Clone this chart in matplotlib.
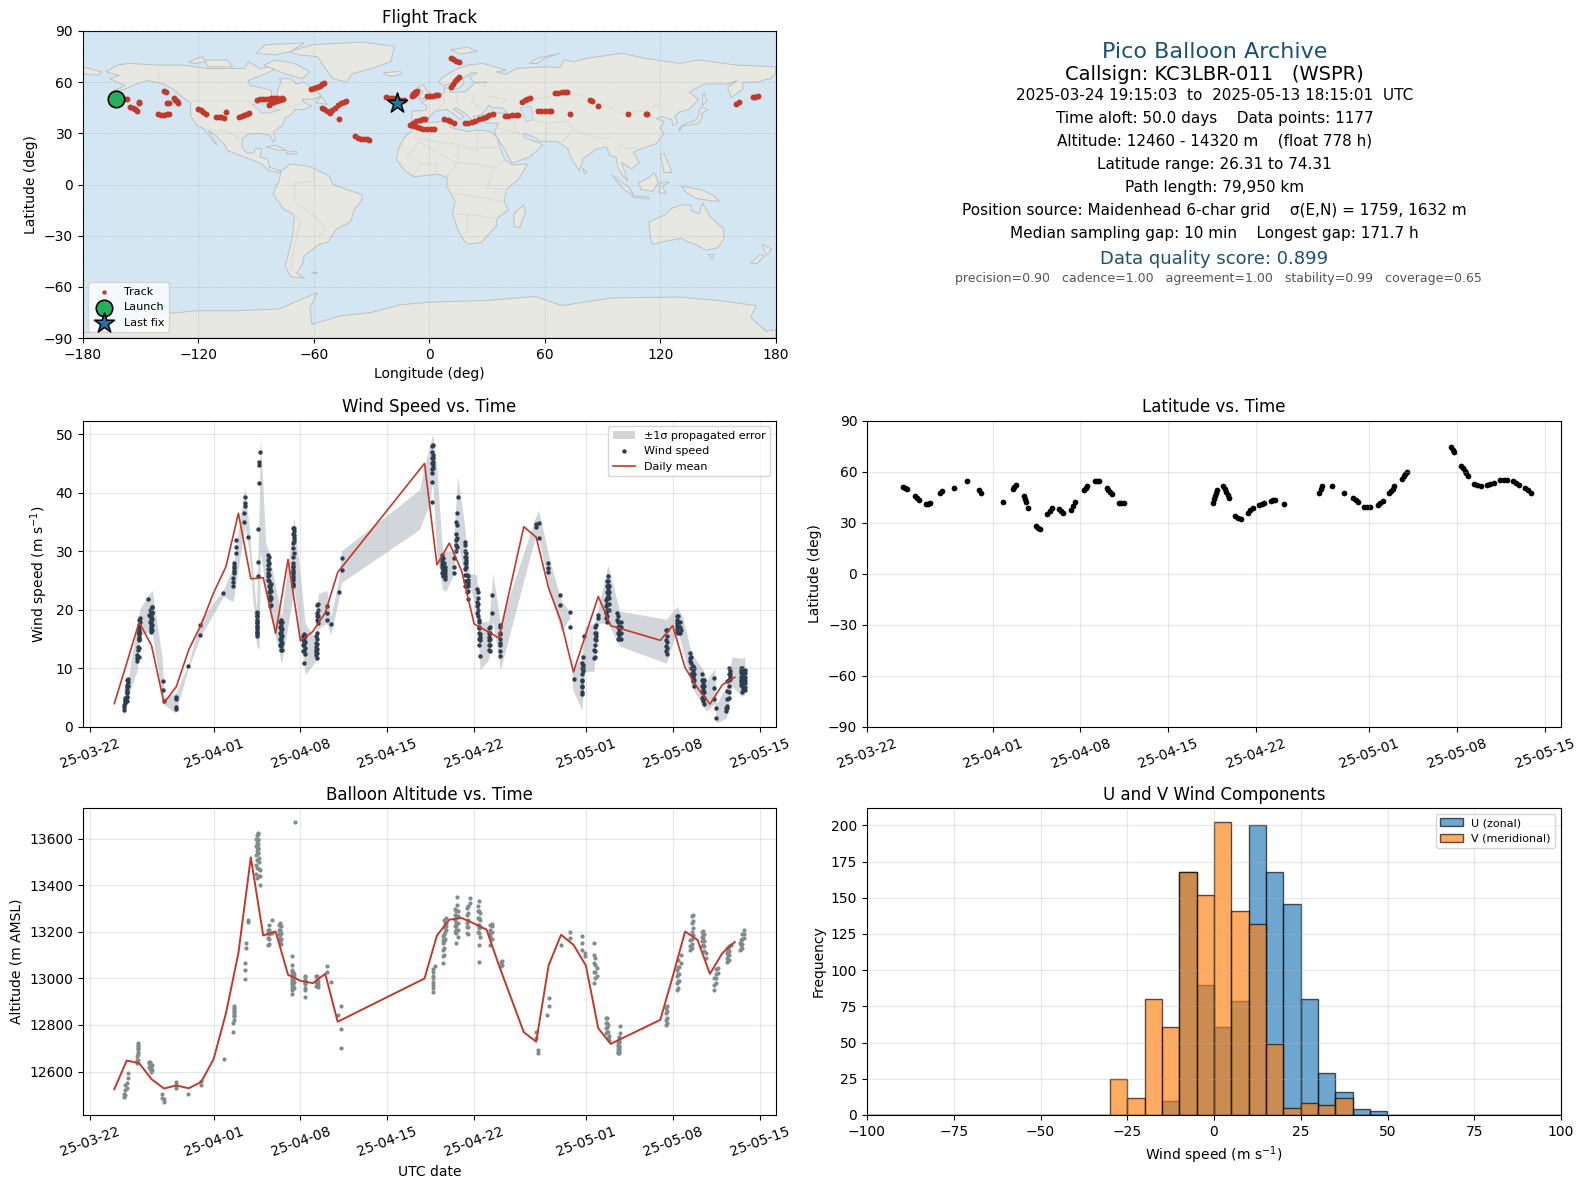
import numpy as np
import pandas as pd
import matplotlib
matplotlib.use("Agg")
import matplotlib.pyplot as plt
import matplotlib.dates as mdates

# coarse coastlines, read by eye (lon, lat)
north_america = [(-168,66),(-162,70),(-156,71),(-141,70),(-128,70),(-115,68),(-108,68),(-96,68),(-94,72),(-88,68),(-82,69),(-81,67),(-87,64),(-94,61),(-93,58),(-88,57),(-82,55),(-82,52),(-79,51),(-79,55),(-77,60),(-78,62),(-72,62),(-69,59),(-65,60),(-62,57),(-56,52),(-60,50),(-66,50),(-65,48),(-61,46),(-65,44),(-70,44),(-71,41.5),(-75,39),(-76,35),(-81,31),(-80,26),(-81,25),(-83,29),(-89,30),(-94,29.5),(-97,27),(-97.5,22),(-95,18.5),(-91,18.5),(-90.5,21),(-87,21),(-88,16),(-84,15),(-83,10),(-80,9),(-77,8),(-78,7),(-83,8),(-87,12),(-92,14.5),(-96,16),(-105,20),(-106,23),(-112,30),(-114.7,31.5),(-110,23),(-112,25),(-117,32.5),(-120.5,34.5),(-124,40),(-124,48),(-128,51),(-133,56),(-138,59),(-146,61),(-152,59),(-158,56),(-165,54.5),(-158,58),(-162,60),(-166,62),(-161,64)]
south_america = [(-77,8),(-72,12),(-62,10.5),(-52,5),(-50,0),(-44,-2.5),(-35,-6),(-35,-9),(-39,-15),(-41,-22),(-48,-26),(-53,-34),(-57,-35),(-62,-39),(-65,-42),(-66,-47),(-69,-52),(-65,-55),(-72,-54),(-75,-48),(-73,-40),(-71,-30),(-70,-18),(-76,-14),(-81,-6),(-80,-2),(-78,2)]
africa = [(-6,36),(10,37),(11,33.5),(20,31),(25,32),(32,31),(35,28),(37,21),(39,15),(43,11.5),(51,12),(47,4),(40,-3),(39,-10),(41,-15),(35,-20),(35,-24),(32,-28),(27,-34),(20,-35),(18,-33),(15,-27),(12,-17),(13.5,-10),(9,-1),(9.5,4),(4,6),(-4,5),(-8,4.5),(-13,8.5),(-17,14.5),(-16,21),(-13,27.5),(-9.5,31)]
eurasia = [(-9,37),(-9,43),(-1.5,43.5),(-1,46),(-4.5,48.5),(1.5,50.5),(8,54),(8,57),(11,56),(10.5,54),(19,54.5),(21,57),(24,59.5),(30,60),(23,60),(21,63),(25,65.5),(22,65.5),(17,62),(18,59),(15,56),(12.5,56),(11,59),(7,58),(5,60),(7,63),(14,67.5),(20,70),(28,71),(40,67),(35,66),(40,64.5),(45,68),(60,69),(68,68.5),(70,73),(75,72),(82,74),(100,77),(112,74),(130,71),(140,73),(160,70),(170,69.5),(180,69),(180,65),(177,62),(170,60),(163,60),(163,56),(157,51),(155,57),(160,61),(155,59),(143,59),(135,54),(140,50),(135,44),(130,42.5),(127.5,40),(129,36),(126.5,34.5),(126,38),(121,40),(118,38.5),(122,37),(120,33),(122,30),(118,24),(110,21),(106,19),(109,13),(105,9),(100,13),(103,2),(100,6),(98,10),(97,16),(94,17),(92,22),(87,21),(80,15),(78,8),(73,17),(72,21),(67,25),(57,25.5),(56,27),(49,30),(50,27),(56,25),(59,23),(52,16),(43,12.5),(39,21),(35,28),(34,31),(36,36),(30,36),(27,37),(26.5,40),(29,41),(35,42),(41,41.5),(38,45),(33,45),(31,46.5),(28,42),(26,40.5),(23,40),(23,36.5),(19.5,41),(14,45),(12.5,44),(18,40),(16,38),(12,42),(9,44),(3,43),(0,39.5),(-2,37),(-5.5,36)]
chukotka = [(-180,65),(-172,64),(-170,66),(-180,69)]
greenland = [(-73,78),(-60,82),(-35,83.5),(-18,81),(-20,72),(-30,68),(-40,65),(-43,60),(-50,62),(-54,68),(-58,75),(-68,76)]
antarctica = [(-180,-87),(-158,-85),(-150,-77),(-120,-74),(-100,-74),(-78,-73),(-68,-68),(-58,-63.5),(-62,-72),(-61,-82),(-46,-77),(-30,-75),(-15,-70.5),(0,-69),(30,-68),(55,-65.6),(69,-71),(95,-66.5),(130,-66),(150,-68),(170,-71),(167,-78),(175,-86),(180,-85),(180,-90),(-180,-90)]
australia = [(114,-22),(122,-18),(126,-14),(131,-12),(136,-12),(136,-15),(140,-17.5),(142,-11),(146,-19),(153,-26),(153,-32),(150,-37),(144,-38.5),(138,-35),(135,-34),(131,-31.5),(124,-33),(116,-35),(115,-32)]
islands = [
    [(-80,73),(-70,71),(-62,66),(-66,62),(-75,65),(-86,70)],
    [(-117,73),(-105,73),(-102,69),(-115,69)],
    [(-90,77),(-85,82),(-65,83),(-72,78),(-80,76)],
    [(-125,72),(-118,75),(-116,72),(-122,71)],
    [(-59,48),(-53,47),(-56,51.5)],
    [(-24,65.5),(-15,66.3),(-14,64.8),(-19,63.5),(-22,64)],
    [(-5.5,50),(1,51),(1,53),(-2,56),(-3,58.5),(-6,57),(-3,54),(-5,52)],
    [(-10,52),(-6,52),(-6,55),(-9,54.5)],
    [(11,79),(20,80.5),(25,78),(16,76.5)],
    [(52,71),(56,74),(68,77),(60,74),(56,71)],
    [(130,31),(131,34),(136,35),(140,36),(142,40),(141,41.5),(145,44),(141,45.5),(140,42),(139,38),(133,35.5),(130,33)],
    [(142,46),(144,49),(143,54),(142,52)],
    [(80,9.5),(82,7),(80.5,6)],
    [(-85,22),(-80,23),(-74,20),(-78,20)],
    [(-74,19),(-69,19.5),(-69,18),(-74,18)],
    [(109,1),(114,4),(117,7),(119,1),(116,-4),(110,-3)],
    [(95,5.5),(104,-2),(106,-6),(101,-3)],
    [(105,-6.5),(114,-7.5),(114,-8.5),(106,-7.5)],
    [(119.5,-5),(120,1),(125,1.5),(121,-1),(123,-5)],
    [(120,18),(122,18),(124,13),(126,7),(122,7),(121,13)],
    [(131,-1),(141,-3),(147,-6),(151,-10),(143,-9),(138,-8),(133,-4)],
    [(145,-41),(148,-41),(147,-43.5)],
    [(173,-35),(178,-38),(175,-41.5),(174,-39)],
    [(172,-41),(174,-42),(170,-46.5),(167,-46)],
    [(49,-12),(50,-16),(47,-25),(44,-25),(44,-17)],
    [(-61,-51.5),(-58,-51.5),(-59,-52.5)],
]
lakes = [[(47,45),(53,46),(54,38),(50,37),(49,41)],[(-92,47),(-85,48),(-80,44),(-77,44),(-83,42),(-87,42)]]
borders = [
    [(-123,49),(-95,49),(-83,46),(-75,45),(-67,47)],[(-117,32.5),(-106,31.5),(-97,26)],[(-141,70),(-141,60)],
    [(-70,1),(-70,-10),(-58,-20),(-54,-26),(-57,-30)],[(-70,-18),(-67,-22),(-70,-35),(-72,-50)],[(-60,8),(-60,2),(-70,1)],
    [(-8,27),(12,24),(25,20),(25,31)],[(25,22),(37,22)],[(-5,25),(4,19),(14,13),(24,12)],[(15,23),(15,13),(9,5)],
    [(24,12),(34,10),(40,15)],[(12,-5),(30,-8),(40,-11)],[(12,-17),(25,-18),(35,-20)],[(20,-18),(20,-28),(17,-29)],
    [(-12,15),(-5,25)],[(-8,5),(-5,12),(4,12),(3,6)],[(34,10),(30,-2),(40,-3)],
    [(3,43),(8,48),(7,53)],[(14,54),(15,47)],[(24,54),(22,48),(28,45)],[(30,52),(40,50),(38,47)],[(28,56),(30,60)],
    [(50,50),(60,51),(72,54),(85,50)],[(88,48),(100,42),(112,43),(120,47)],[(68,24),(75,32),(80,30),(88,27),(95,28)],
    [(36,33),(46,30),(50,27)],[(44,37),(46,30)],[(61,25),(61,36),(54,38)],[(61,36),(72,37),(75,32)],[(98,24),(102,21),(108,22)],
]

# track positions
track_lon = [-158.4,-157,
    -155.3,-154,-153,-151.8,
    -151,-151,
    -137.6,-137,
    -136.3,-135,
    -141,-139.5,-138,-136.5,-135,
    -132.5,-132,-131.2,-130.6,
    -120,-118.7,-117.3,-116,
    -110.6,-109.2,-108,-106.6,
    -105.4,
    -98.8,-97.5,-96,-94.8,-93.6,
    -89.4,-88,-86.5,-85,-83.5,-82,-80.5,-79,-77.5,-76.5,
    -83.5,-82,-80.5,-79,-77.5,-76,
    -61.6,-60,-58.5,-57,-55.5,-54.6,
    -55.8,-54.5,-53,-51.8,-50.5,-49,-47.5,-46,-44.5,-43,
    -47,
    -38.4,-37,-35.5,-34,-32.5,-31.3,
    -22.3,-20.5,-19,-17,-15,-13,
    -9,-8.5,-7.5,-6.5,-8,-7,
    -1,0.5,2,3.5,4.7,
    11.3,12.5,14,15.3,
    11.3,12.2,13.3,14.3,15.3,
    -10,-8.5,-7,-5,-3.5,-2.4,
    -9.4,-8,-6.5,-5,-3,-1,0.8,2.4,
    7.8,9.5,11,13,
    18.4,20,22,24,26,28,29.5,31,33,
    39.3,41,43,45,46,
    48.2,49.5,51,52.5,
    56.5,58,60,62,63.5,
    65.2,67,69,70.5,71.8,
    73,
    83.5,84.5,
    87.5,
    103.3,
    112.5,113,
    159.3,160.7,
    168.2,169.5,171]
track_lat = [50.4,50.3,
    45.3,44.6,44,43.3,
    48.4,47.6,
    54.8,54.2,
    47.6,47.7,
    41.2,41,41,41.1,41.3,
    50.8,49.8,48.8,47.8,
    44.1,43.4,42.5,41.4,
    39.8,39.6,39.3,38.8,
    42.4,
    39.6,40.1,40.8,41.5,42.2,
    49.8,50,50.1,50.2,50.4,50.5,50.6,50.5,50.3,50.5,
    46.8,47.8,48.6,49.1,49.6,50.2,
    55.8,56.6,57.4,58,59,59.7,
    44.7,44,43,42.2,43.5,45,46.5,47.8,48.6,49.2,
    38.5,
    28.5,27.5,26.8,26.5,26.4,26.31,
    51.2,51,50.5,49.8,49.6,49.6,
    52,53,54,55,52.5,53.5,
    52,52,52.1,52.2,52.4,
    74.3,73.5,72.7,71.8,
    57.4,59,60.5,62,63,
    35,36,37,37.6,38.2,38.6,
    35,34.2,33.6,33,32.6,32.4,32.5,32.8,
    38.4,38,37.2,36,
    36,36.3,36.8,37.4,38.2,39,39.8,40.6,41.4,
    40,40.3,40.5,40.8,41,
    48.4,49.5,50.2,50.8,
    43,43.1,43.1,43,43,
    53.5,53.9,54.2,54.2,54.2,
    41.2,
    49.4,48.8,
    46.3,
    41.2,
    41.2,41.2,
    47,48.2,
    51.2,51.5,51.7]
launch_pos = (-162.9, 50.0)
last_fix_pos = (-17.0, 47.6)

# wind speed, days since 2025-03-22, one value list per streak
wind_days = [2.82,2.9,3.04,3.85,3.9,3.98,4.06,4.73,4.79,4.92,5.06,5.89,6.0,6.94,7.94,8.93,10.79,11.57,11.68,11.78,12.48,12.54,12.8,
    13.48,13.6,13.69,13.77,14.39,14.55,15.42,16.36,16.49,17.3,18.24,18.37,19.13,19.45,20.07,20.31,
    27.58,27.68,28.41,28.68,29.4,29.6,29.67,30.24,30.34,30.53,31.2,31.37,31.47,32.23,32.45,33.12,36.0,36.2,36.94,37.91,38.74,39.04,
    39.68,39.76,39.85,40.65,40.79,40.97,41.64,41.8,42.5,42.7,46.44,47.35,47.7,48.37,48.64,49.45,50.31,50.52,51.4,51.65,52.47,52.8,
    3.0,3.1,3.95,4.0,4.85,5.0,13.52,14.45,14.6,15.35,15.5,16.42,17.2,17.4,18.3,18.42,27.62,28.5,28.6,29.55,30.3,30.45,31.3,31.4,32.3,33.1,
    39.72,40.7,41.7,41.9,42.6,42.8,46.5,47.45,47.55,48.45,48.75,49.35,49.55,51.3,51.55,52.6,52.7]
wind_vals = [[2.96,3.4,3.8],[4.1,4.6,4.9,4.4],[5.1,5.8,6.4,7.2,8],[11.2,11.8,12.3],[13.1,13.7],[14.9,15.4,15.8,16.2,16.6,17.2],[18,18.6],[21.8],[19.2],[19.7,19,18.6,18.1,17.7,17.3,16.9,16.5,16.2],[20.5,19.7],[7.8,6.4],[4.4],[5.1,4.7,3.5,3.1],[10.4],[15.7,17.5],[22.9],[24,24.7,25.4],[26.3,26.7,27.1,27.5,28],[29.7,30.8,32],[35,36.5],[37.7,38.2,39.2],[32.4],
    [19.5,18.9,18.3,17.7,17.2,16.7,16.3,15.8],[25.7,28.2,33.8],[41.6,44.8,45.2],[46.9],[29.3,28.5,27.7,27,26.3,25.7,25.1],[24.3,23.7,23.2,22.4,21.7,20.6],[18.2,17.7,17.2,16.7,16.3,15.9,15.5,15,14.6,14.2,13.8,13.2],[24,24.5,25.1,25.7,26.3,26.8,27.4],[29.7,31.7,32.2,32.8,33.4,34],[15.8,15.3,14.9,14.5,14.1,12.9,10.9],[12.3,12.8,13.2,13.7,14.3,15.5],[18.3,18.9,19.5,20.9],[18.3,19.5,20.6],[17.6],[23],[28.8,26.8],
    [38.5,41.9,43.3],[48.2,46.5,45.9,45.3,44.7,44.2],[29.4,28.8,28.3,27.8,27.4,26.3],[27.4,26.8,26.3,25.8,25.3],[28.8,27.4,26.3],[30.8,32.3,34.5,36.5],[39.2],[31.6],[29.7,29.1,28.6,28,27.4],[25.7,25.1,24.6,24,23.2,21.8],[23.5,21.4,20.6,19.5],[18.3,16.9],[15.8,15.3,14.9,12.2],[16.9,16,15.4,14.9,14,13.2],[22.6,19.5],[17.5,15.8,14.3,12.2],[34.2,34.6],[34.8,32.3],[28,27.2,26.5],[22.5,20.9],[19.6,17],[8.2],
    [5.6,6.9,7.8],[9.5,10.1,10.6,12],[15.6],[11.8,13.2],[14.9,15.5,16,17.5],[19.2,18.6],[18.6,19.5,20.6,21.7],[22.6,23.2,23.7,24.3,24.9,25.8],[19.5,18.3],[17.2,16.7,16.3,15.7,15],[12.9,13.8,14.9,16.6],[19,18.2,17.7,17.2,16.7,16.3],[16.6],[12.6,11.8,11.2],[10.4,9.5,9,8.6,8.2,7.8],[8.1,7.6,7.2,6.8,6.4,5.8,5.2,4.4],[8.4,6.7,4.7],[3.2,1.5],[3.2,3.6,4.7,6.1,7.8],[9.5,9,8.6,8.2],[10.1,9.6,9.2,8.6,8.1,7.6,7.2],[9.8,9.2,8.6,8,7.5,6.9,6.4],
    [4.5,5.2,6,6.8],[7,7.6,8.2],[12,13.5,15,16,17],[15,16,17.5,18.3],[18,19,20],[16.5,17.5,18.5,19.5,20.5],[15.6,16.2,17,18,19,19.7],[22,23,24,25,26,27,28,29],[20.8,22,23.3,24.5],[14,15,16,17,18],[13.2,14.4,15.6,16.8,18],[24.5,25.5,26.5,27.5,28,29,30.5,31.5,33,34],[13,14,15,15.6],[12.5,13.5,14.5,15.5],[11.8,12.6,13.4,14.2,15,16],[17.8,19,20,21],[44,45,46,47,48],[25.8,26.8,27.8,28.8],[26,27,28],[30,31,32,33,35],[24,25,26,27,28,29,30,31],[23,24,25,26],[19,20,21,22,23],[14,15,16,17,18],[13,14,15,16,17],[13,14,15,16,17],
    [6,7,8,9,10,11],[12,13,14,15,16,17],[18,19,20,21,22,23,24,25],[20,21,22,23,24],[15,16,17,18,19],[15,16,17,18],[12.5,13.5,14.5,15.5,16.5],[16,17,18,19],[16,17,18],[9,10,11,12],[7,8,9,10],[5,6,7,8,9],[4,5,6,7,8],[2.8,3.3],[5,6,7,8,9,10],[6,7,8,9,10],[6.5,7.5,8.5,9.5]]

# error band
band_days = [2.77,3.12,3.85,4.06,4.73,5.06,5.86,6.0,6.94,7.94,8.96,10.79,11.57,12.51,12.86,13.45,13.67,13.77,14.2,14.47,15.47,16.49,17.38,18.24,18.43,19.13,19.45,20.07,20.31,26.58,27.39,27.66,27.98,28.46,28.73,29.27,29.67,30.21,30.62,31.2,31.48,32.18,32.5,33.12,35.86,36.2,37.07,38,38.69,38.95,39.68,39.9,40.65,40.97,41.78,42.72,46.49,47.35,47.83,48.51,49.45,49.72,50.39,50.52,51.33,51.79,52.54,52.81]
band_lo = [1.7,5.2,9.8,15.5,16.3,15.9,4.7,3.8,2.4,9.8,15.5,22.3,21.4,34.2,30,14,13.2,30,23.4,20,10.9,23.4,8.9,11.2,16.8,17.7,15.8,21.7,24.7,33.7,38,42,29.7,23.4,23.2,25.7,31.4,26.3,24.3,20,9.8,11.5,18,9.8,32,32.3,23.4,16.3,18.6,6.4,2.8,9.5,9.5,17.7,17.7,13.8,10.9,16.6,13.2,6.9,3.5,2.7,4,0.7,1.5,7,5.2,5.5]
band_hi = [6.8,8.2,17.7,20.2,22.5,23.3,11.7,5,5.8,10.6,18.4,23.4,27.4,41,34.2,20,37,50,31.4,29.7,18.9,35.8,17.7,14.9,22.8,23.3,18.9,25,30.1,40.5,48,50,44.5,29.7,30,30,42.8,34.8,26.3,26,18,18,26.3,17.7,35.4,37,28.6,21.7,19.7,9.8,12,17.2,17.7,20,27.7,19.8,18.4,20.6,18.6,12.6,9.8,8,10,4,7,12,11.7,12]

# daily means of wind
mean_days = [2,3,4,5,6,7,8,9,10,11,12,13,14,15,16,17,18,19,20,27,28,29,30,31,32,33,35,36,37,38,39,41,42,46,47,48,49,50,51,52]
mean_wind = [4,10.9,17.9,13.9,4.1,6.9,13.2,17.5,22.9,27.4,36.5,25.3,25.5,16,28.6,14.7,16.3,19.5,26.4,45,27.7,31.4,26.6,17.6,16.4,15.2,34.2,32.4,23.7,18,9.4,22.3,17.3,14.8,17.3,10.1,6.7,3.9,7.2,8.5]

# latitude vs time
lat_days = [2.84,3.0,3.16,3.79,3.97,4.15,4.72,4.88,5.03,5.85,5.98,6.95,7.94,8.94,9.04,10.85,11.6,11.74,11.88,12.48,12.57,12.66,12.84,13.48,13.64,13.8,14.36,14.54,14.72,15.25,15.45,15.64,16.28,16.44,16.6,17.27,17.41,17.55,18.16,18.33,18.5,19.1,19.22,19.35,19.47,20.04,20.25,20.46,
    27.55,27.62,27.7,27.77,27.84,28.37,28.48,28.6,28.72,28.83,29.33,29.54,29.75,30.32,30.53,30.74,31.24,31.44,31.63,32.16,32.33,32.5,33.23,36.0,36.12,36.24,37.06,38.0,38.72,38.9,39.08,39.6,39.83,40.07,40.67,40.88,41.1,41.6,41.73,41.87,42.0,42.6,42.73,42.87,43.01,
    46.52,46.65,46.77,47.3,47.44,47.58,47.72,47.84,48.3,48.6,48.9,49.36,49.63,49.9,50.43,50.7,50.96,51.42,51.66,51.9,52.38,52.64,52.9]
lat_vals = [50.8,50.2,49.8,45.5,44.5,43.5,40.8,41.2,41.6,47.8,48.8,50.6,54.7,49,47.5,42.4,50,51,52,45.5,43.8,42.2,38.8,28.2,27,26.3,35.3,37,38.8,38,37,36,37.3,39.6,42,49,50.2,51.4,54.3,54.6,54.5,50.6,49.2,48,46.7,41.8,41.8,41.8,
    41.8,43.8,45.6,47.5,49.4,51.4,49.8,48,46.3,44.7,34.1,33,32.4,36,37.3,38.6,40.4,41,41.4,42.7,43.2,43.5,41.2,47.5,49.6,51.8,51.4,47.6,44.7,43.3,42,39.4,39.3,39.2,40.4,41.5,42.7,47.5,48.8,50.1,51.4,55.9,57.3,58.6,60,
    74.5,73,71.6,63.3,62,60.6,59,57.5,52.9,52.1,51.4,52.2,52.9,53.5,54.9,55.2,55.3,54.5,53.5,52.5,50.6,49.2,47.8]

# altitude, same layout as the wind streaks
alt_days = [2.81,3.0,3.1,3.83,3.94,4.78,5.0,5.88,5.99,7.0,7.92,9.01,10.8,11.68,11.6,12.52,12.59,12.81,13.5,13.61,13.76,14.42,14.67,15.36,16.28,16.42,16.6,17.34,18.25,18.45,19.16,19.5,20.0,20.26,
    27.66,27.84,28.47,28.72,29.56,29.63,30.4,30.66,31.39,32.3,33.14,35.95,36.17,36.9,37.04,37.96,38.76,39.67,39.95,40.62,40.88,41.64,41.86,42.59,42.77,46.46,47.34,47.63,48.43,48.61,49.45,49.71,50.33,50.62,51.46,51.7,52.44,52.74,
    2.9,3.9,4.85,4.95,11.65,13.45,13.55,13.65,14.5,15.25,15.45,16.35,16.5,17.4,18.35,27.72,28.55,28.65,29.45,29.7,30.5,31.3,31.5,32.4,33.25,
    40.7,41.7,41.8,42.65,42.7,46.52,47.42,47.5,48.52,49.38,49.55,50.45,51.38,51.55,52.6,52.5]
alt_vals = [[12490,12504],[12528,12550],[12571,12593],[12636,12650,12665],[12686,12700,12708,12722],[12636,12619,12643],[12607,12629],[12504,12485],[12471,12480],[12557,12543,12528],[12504],[12561,12543],[12653],[12880,12870,12858,12848,12837],[12808,12772],[13066,13037,12999],[13152,13131],[13253,13241],[13619,13583,13565,13547,13511,13475,13432],[13626,13597,13561,13555,13540],[13468,13439,13403],[13210,13195,13174,13145],[13253,13195],[13239,13210,13200,13188,13170,13159],[13095,13037,13015,12999,12980,12964,12933],[13030,12999,12970],[13673],[13009,12995,12980,12951,12920],[13009,12987,12966],[12990,12975,12965],[13055,13030],[12984],[12844],[12880,12782,12700],
    [13030,13002,12973,12941],[13052],[13181,13165,13152,13124,13095,13066],[13260,13238,13225,13210],[13289,13267,13238,13225,13210,13195,13152],[13350,13317],[13303,13274,13238,13220,13195],[13346,13325],[13335,13289,13260,13231,13215,13195,13145,13071],[13231,13210,13195,13181,13145],[13073,13052],[12768,12743],[12693,12679],[12842],[12880,12916],[13145],[13198,13174],[13181,13152,13124],[13110,13095],[13152,13102,13066,13030,12980],[13045,13009],[12830,12808,12786,12765],[12751,12736],[12729,12715,12708,12695,12686,12679],[12794,12765],[12801,12822,12851,12873],[12952,12980,13009,13037],[13066,13102],[13167,13138,13124],[13274,13246,13217,13188],[13203,13185,13174,13145],[13109,13088],[12952,12973,13002],[13045,13023],[13081,13100,13109,13120,13131],[13145],[13124,13152],[13174,13190,13210],
    [12500,12520,12540],[12650,12675,12695,12715],[12610,12625,12640],[12600,12615,12630],[12820,12840,12860,12875],[13450,13490,13530,13570,13600],[13540,13560,13580,13600,13620],[13500,13520,13470,13440],[13150,13170,13190,13210,13230],[13170,13190,13210,13230],[13150,13170,13195,13225],[12950,12975,12990,13010,13030,13060],[12960,12985,13005,13020],[12960,12975,12990,13005],[12970,12985,13000,13010],[12960,12985,13010,13040],[13100,13130,13160,13190,13220,13250],[13170,13200,13240],[13200,13225,13250,13275,13300],[13180,13210,13240,13270,13290],[13190,13220,13250,13280,13310],[13200,13230,13260,13290,13310],[13180,13220,13250,13280],[13170,13200,13225,13235],[13060,13075],
    [13000,13030,13060,13090],[12770,12790,12810,12830],[12745,12770,12800],[12680,12695,12710,12730,12750],[12690,12705,12725,12745],[12810,12830,12860,12880],[12960,12990,13020,13050,13080],[12990,13020,13050],[13130,13150,13170,13200,13240,13270],[13140,13160,13180,13200],[13120,13140,13160,13190],[12980,13000,13020,13040],[13070,13090,13110,13130],[13080,13100,13120,13140],[13130,13150,13170,13190],[13125,13145,13165]]
mean_alt_days = [2,3,4,5,6,7,8,9,10,11,12,13,14,15,16,17,18,19,20,27,28,29,30,31,32,33,35,36,37,38,39,40,41,42,46,47,48,49,50,51,52]
mean_alt = [12524,12647,12636,12567,12527,12540,12528,12555,12653,12851,13109,13521,13185,13202,13016,12990,12980,13020,12814,13000,13185,13253,13260,13236,13210,13056,12769,12728,13056,13188,13145,13056,12786,12719,12822,13008,13202,13166,13020,13109,13157]

# histogram counts in 5 m/s bins, starting at -30
bin_starts = [-30,-25,-20,-15,-10,-5,0,5,10,15,20,25,30,35,40,45]
u_counts = [0,0,0,10,168,90,61,79,200,168,146,80,29,16,4,3]
v_counts = [25,12,80,61,168,152,202,141,132,49,5,8,7,12,0,0]

tick_dates = ["2025-03-22","2025-04-01","2025-04-08","2025-04-15","2025-04-22","2025-05-01","2025-05-08","2025-05-15"]

W, H = 1587, 1189
BASE = pd.Timestamp("2025-03-22")

def to_dates(days):
    return BASE + pd.to_timedelta(np.asarray(days, dtype=float), unit="D")

def make_axes(left, top, right, bottom):
    return fig.add_axes([left / W, 1 - bottom / H, (right - left) / W, (bottom - top) / H])

def date_axis(ax, xmin, xmax):
    ax.set_xlim(to_dates([xmin, xmax]))
    ax.set_xticks(pd.to_datetime(tick_dates))
    ax.xaxis.set_major_formatter(mdates.DateFormatter("%y-%m-%d"))
    ax.tick_params(axis="x", labelrotation=20)
    ax.grid(True, alpha=0.3)

def streaks(ax, days, vals, color, size, label=None):
    xs = [d for d, v in zip(days, vals) for _ in v]
    ys = [y for v in vals for y in v]
    ax.scatter(to_dates(xs), ys, s=size, color=color, linewidths=0, label=label)

fig = plt.figure(figsize=(W / 100, H / 100), dpi=100)
RED = "#c0392b"
NAVY = "#1a5276"

# map
ax = make_axes(82.8, 31, 775.7, 338)
ax.set_facecolor("#d4e6f1")
land = [north_america, south_america, africa, eurasia, chukotka, greenland, antarctica, australia] + islands
for poly in land:
    xs, ys = zip(*poly)
    ax.fill(xs, ys, facecolor="#e8e8e3", edgecolor="#bcc2c4", linewidth=0.7)
for poly in lakes:
    xs, ys = zip(*poly)
    ax.fill(xs, ys, facecolor="#d4e6f1", edgecolor="#bcc2c4", linewidth=0.5)
for line in borders:
    xs, ys = zip(*line)
    ax.plot(xs, ys, color="#d8d8d4", linewidth=0.6)
ax.scatter(track_lon, track_lat, s=18, color=RED, linewidths=0, zorder=3, label="Track")
ax.scatter(*launch_pos, s=140, color="#27ae60", edgecolors="black", linewidths=1.2, zorder=4, label="Launch")
ax.scatter(*last_fix_pos, s=230, marker="*", color="#2471a3", edgecolors="black", linewidths=1.1, zorder=5, label="Last fix")
ax.set_xlim(-180, 180)
ax.set_ylim(-90, 90)
ax.set_xticks(range(-180, 181, 60))
ax.set_yticks(range(-90, 91, 30))
ax.grid(True, color="gray", linestyle=":", linewidth=0.5, alpha=0.5)
ax.set_axisbelow(False)
ax.set_title("Flight Track", fontsize=12)
ax.set_xlabel("Longitude (deg)")
ax.set_ylabel("Latitude (deg)")
leg = ax.legend(loc="lower left", fontsize=8)
for hnd in leg.legend_handles[:1]:
    hnd.set_sizes([10])

# summary text
info = [
    (51.7, "Pico Balloon Archive", 16, NAVY, 1214.5),
    (74, "Callsign: KC3LBR-011   (WSPR)", 14, "black", 1214.5),
    (95.5, "2025-03-24 19:15:03  to  2025-05-13 18:15:01  UTC", 11, "black", 1214.5),
    (118.5, "Time aloft: 50.0 days    Data points: 1177", 11, "black", 1214.5),
    (141.5, "Altitude: 12460 - 14320 m    (float 778 h)", 11, "black", 1214.5),
    (164.5, "Latitude range: 26.31 to 74.31", 11, "black", 1214.5),
    (187.5, "Path length: 79,950 km", 11, "black", 1214.5),
    (210.5, "Position source: Maidenhead 6-char grid    σ(E,N) = 1759, 1632 m", 11, "black", 1214.5),
    (233.5, "Median sampling gap: 10 min    Longest gap: 171.7 h", 11, "black", 1214.5),
    (258.5, "Data quality score: 0.899", 13, NAVY, 1214.5),
    (279, "precision=0.90   cadence=1.00   agreement=1.00   stability=0.99   coverage=0.65", 9, "#555555", 1218.5),
]
for y, txt, size, col, cx in info:
    fig.text(cx / W, 1 - y / H, txt, fontsize=size, color=col, ha="center", va="center")

# wind speed
ax = make_axes(82.8, 420.7, 775.7, 727)
ax.fill_between(to_dates(band_days), band_lo, band_hi, color="#7f8c95", alpha=0.35, linewidth=0, label="±1σ propagated error")
streaks(ax, wind_days, wind_vals, "#2c3e50", 10, "Wind speed")
ax.plot(to_dates(mean_days), mean_wind, color=RED, linewidth=1.2, label="Daily mean")
date_axis(ax, -0.54, 55.3)
ax.set_ylim(0, 52.3)
ax.set_title("Wind Speed vs. Time", fontsize=12)
ax.set_ylabel("Wind speed (m s$^{-1}$)")
ax.legend(loc="upper right", fontsize=8)

# latitude
ax = make_axes(867, 420.7, 1561, 727)
ax.scatter(to_dates(lat_days), lat_vals, s=17, color="black", linewidths=0)
date_axis(ax, 0.3, 55.26)
ax.set_ylim(-90, 90)
ax.set_yticks(range(-90, 91, 30))
ax.set_title("Latitude vs. Time", fontsize=12)
ax.set_ylabel("Latitude (deg)")

# altitude
ax = make_axes(82.8, 808, 775.7, 1115)
streaks(ax, alt_days, alt_vals, "#7f8c8d", 9)
ax.plot(to_dates(mean_alt_days), mean_alt, color=RED, linewidth=1.4)
date_axis(ax, -0.54, 55.3)
ax.set_ylim(12413, 13733)
ax.set_title("Balloon Altitude vs. Time", fontsize=12)
ax.set_xlabel("UTC date")
ax.set_ylabel("Altitude (m AMSL)")

# histogram
ax = make_axes(867, 808, 1561, 1115)
edges = np.arange(-100, 105, 5)
centers = np.array(bin_starts) + 2.5
ax.hist(centers, bins=edges, weights=u_counts, color="#1f77b4", alpha=0.65, edgecolor="black", label="U (zonal)")
ax.hist(centers, bins=edges, weights=v_counts, color="#ff7f0e", alpha=0.65, edgecolor="black", label="V (meridional)")
ax.set_xlim(-100, 100)
ax.set_ylim(0, 212)
ax.set_yticks(range(0, 201, 25))
ax.grid(True, alpha=0.3)
ax.set_title("U and V Wind Components", fontsize=12)
ax.set_xlabel("Wind speed (m s$^{-1}$)")
ax.set_ylabel("Frequency")
ax.legend(loc="upper right", fontsize=8)

plt.savefig("out.png", dpi=100)
